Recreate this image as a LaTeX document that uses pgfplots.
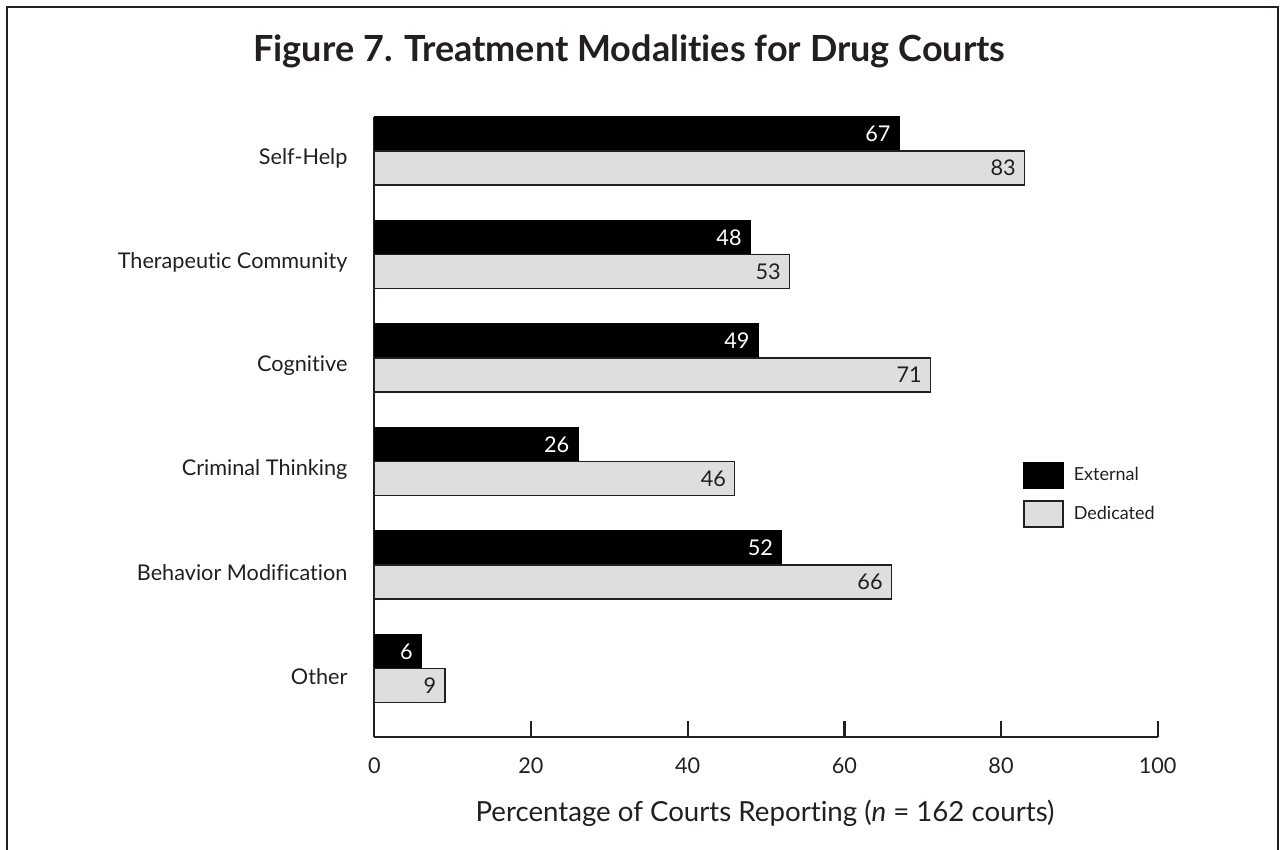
\documentclass[border=0pt]{standalone}
\usepackage{fontspec}
\setmainfont{Lato}[Ligatures=NoCommon]
\usepackage{pgfplots}
\pgfplotsset{compat=1.18}
\definecolor{ink}{HTML}{231F20}
\definecolor{lgray}{HTML}{DEDEDE}

\begin{document}
\begin{tikzpicture}
\useasboundingbox (-224.6pt,-67.8pt) rectangle (546.4pt,442.2pt);
% frame round the figure (its bottom edge lies below the page)
\draw[line width=1.2pt,ink] (-220.4pt,-80pt) -- (-220.4pt,438pt) -- (542.2pt,438pt) -- (542.2pt,-80pt);
\begin{axis}[
  at={(0pt,0pt)},anchor=south west,
  width=470pt,height=372.2pt,scale only axis,
  xbar,bar width=20.4pt,
  xmin=0,xmax=100,ymin=-0.66,ymax=5.33,
  axis x line*=bottom,axis y line*=left,
  axis line style={line width=1.4pt,ink,-},
  xtick={0,20,...,100},tick align=inside,major tick length=9.6pt,
  xtick style={line width=1.4pt,ink},
  ytick={0,...,5},
  yticklabels={Other,Behavior Modification,Criminal Thinking,Cognitive,Therapeutic Community,Self-Help},
  ytick style={draw=none},
  /pgf/number format/assume math mode=true,
  xticklabel style={font=\fontsize{13}{15}\selectfont,text=ink,yshift=-9pt},
  yticklabel style={font=\fontsize{13}{15}\selectfont,text=ink,yshift=-4.8pt,xshift=-12.6pt},
  nodes near coords,
  every node near coord/.append style={anchor=east,inner sep=0pt,xshift=-4.8pt,
    font=\fontsize{13}{15}\selectfont},
  legend cell align=left,
  legend style={at={(axis cs:82.8,2.0)},anchor=north west,draw=none,fill=none,
    inner sep=0pt,font=\fontsize{10.8}{12}\selectfont,text=ink,row sep=6.8pt,
    nodes={inner sep=0pt},/tikz/every odd column/.append style={column sep=6pt}},
  legend image code/.code={\draw[#1] (0pt,-7.7pt) rectangle (23.4pt,7.7pt);},
  clip=false
]
\addplot[fill=black,draw=black,line width=0.9pt,bar shift=10.2pt,
  every node near coord/.append style={text=white}]
  coordinates {(67,5) (48,4) (49,3) (26,2) (52,1) (6,0)};
\addplot[fill=lgray,draw=ink,line width=0.9pt,bar shift=-10.2pt,
  every node near coord/.append style={text=ink}]
  coordinates {(83,5) (53,4) (71,3) (46,2) (66,1) (9,0)};
\legend{External,Dedicated}
\end{axis}
\node[anchor=base,font=\bfseries\fontsize{21.6}{24}\selectfont,text=ink] at (153.1pt,405.2pt)
  {Figure 7. Treatment Modalities for Drug Courts};
\node[anchor=base,font=\fontsize{16.6}{18}\selectfont,text=ink] at (234.4pt,-50.8pt)
  {Percentage of Courts Reporting (\textit{n} = 162 courts)};
\end{tikzpicture}
\end{document}
